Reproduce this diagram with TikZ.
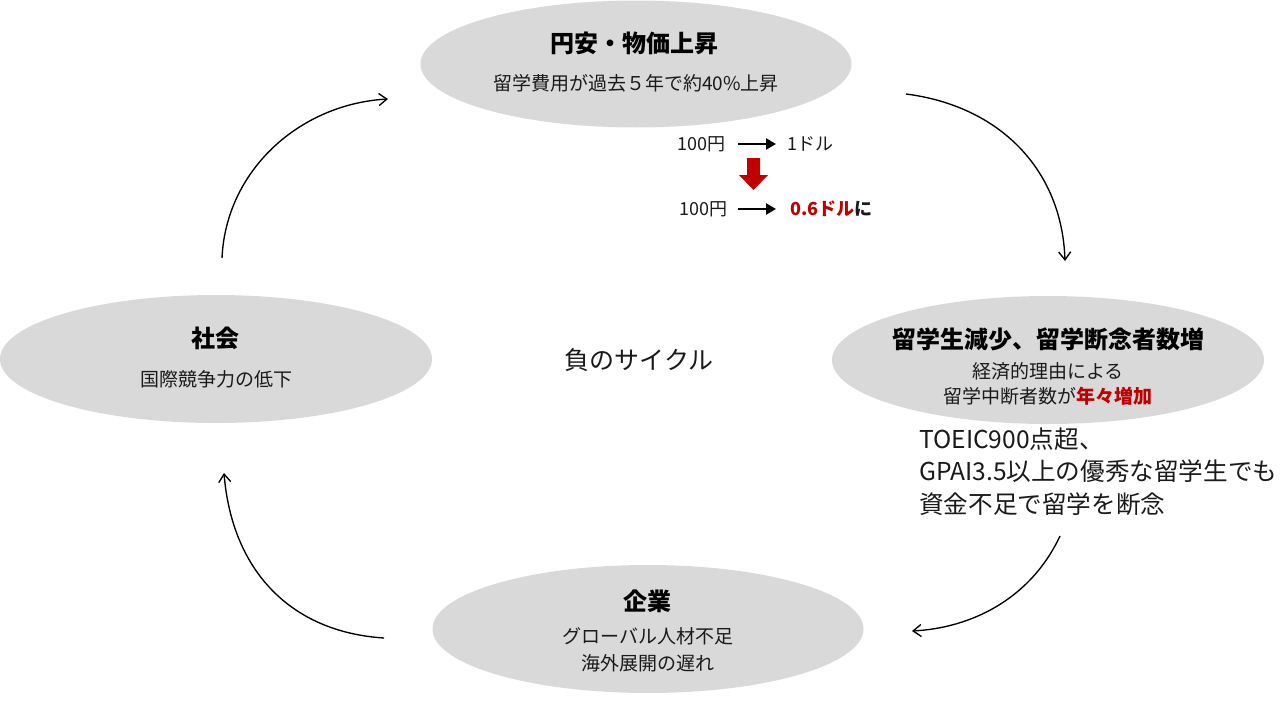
\documentclass[tikz,border=0pt]{standalone}
\usepackage{fontspec}
\setmainfont{Noto Sans CJK JP}
\usetikzlibrary{shapes.geometric,arrows.meta}
\definecolor{ell}{HTML}{D9D9D9}
\definecolor{dred}{HTML}{C00000}
\definecolor{txt}{HTML}{1A1A1A}
\begin{document}
\begin{tikzpicture}[x=1pt,y=-1pt,
  bubble/.style={ellipse, fill=ell, draw=none, inner sep=0, minimum width=431pt, minimum height=127pt},
  ttl/.style={font=\fontsize{24}{28}\selectfont\bfseries, text=black, inner sep=0},
  sub/.style={font=\fontsize{19}{24}\selectfont, text=txt, inner sep=0},
  big/.style={font=\fontsize{25}{30}\selectfont, text=txt, inner sep=0},
  blk/.style={font=\fontsize{24.6}{30}\selectfont, text=txt, inner sep=0, anchor=west},
  rate/.style={font=\fontsize{18}{22}\selectfont, text=txt, inner sep=0},
  cyc/.style={line width=1.35pt, -{Straight Barb[length=8pt,width=12pt,line width=1.35pt]}},
  fx/.style={line width=2.8pt, -{Triangle[length=10pt,width=11pt]}},
]
\useasboundingbox (0,0) rectangle (1280,720);

% ellipses
\node[bubble] (top) at (636,64) {};
\node[bubble, minimum width=432pt, minimum height=128pt] (right) at (1048,360) {};
\node[bubble, minimum width=432pt, minimum height=128pt] (left) at (216,359) {};
\node[bubble, minimum width=431pt, minimum height=128pt] (bottom) at (648,629) {};

% top texts
\node[ttl] (topT) at (634,43) {円安・物価上昇};
\node[sub] (topS) at (636,83) {留学費用が過去５年で約40\%上昇};

% right texts
\node[ttl] (rightT) at (1048,339) {留学生減少、留学断念者数増};
\node[sub] (rightS1) at (1048,371) {経済的理由による};
\node[sub] (rightS2) at (1048,396) {留学中断者数が\textcolor{dred}{\bfseries 年々増加}};

% left texts
\node[ttl] (leftT) at (215,338) {社会};
\node[sub] (leftS) at (216,379) {国際競争力の低下};

% bottom texts
\node[ttl] (botT) at (647,601) {企業};
\node[sub] (botS1) at (648,636) {グローバル人材不足};
\node[sub] (botS2) at (648,663) {海外展開の遅れ};

% center
\node[big] (center) at (639,360) {負のサイクル};

% text block
\node[blk] (b1) at (919,439) {TOEIC900点超、};
\node[blk] (b2) at (919,471) {GPAI3.5以上の優秀な留学生でも};
\node[blk] (b3) at (919,504) {資金不足で留学を断念};

% exchange rate
\node[rate, anchor=east] (r1a) at (726,144) {100円};
\node[rate, anchor=west] (r1b) at (787,144) {1ドル};
\node[rate, anchor=east] (r2a) at (728,209) {100円};
\node[rate, anchor=west] (r2b) at (790,209) {\bfseries\textcolor{dred}{0.6ドル}に};
\coordinate (f1s) at (738,144);
\coordinate (f1e) at (776,144);
\coordinate (f2s) at (738,209);
\coordinate (f2e) at (776,209);
\draw[fx] (f1s) -- (f1e);
\draw[fx] (f2s) -- (f2e);
\fill[dred] (747,158) -- (760,158) -- (760,175) -- (768,175) -- (753.5,190) -- (739,175) -- (747,175) -- cycle;

% cycle arrows
\coordinate (a1s) at (222,258);
\coordinate (a1e) at (388,99);
\coordinate (a2s) at (906,94);
\coordinate (a2e) at (1065,261);
\coordinate (a3s) at (1060,536);
\coordinate (a3e) at (912,631);
\coordinate (a4s) at (384,638);
\coordinate (a4e) at (224,473);
\draw[cyc] (a1s) .. controls (226,170) and (300,104) .. (a1e);
\draw[cyc] (a2s) .. controls (1000,106) and (1062,170) .. (a2e);
\draw[cyc] (a3s) .. controls (1030,600) and (970,628) .. (a3e);
\draw[cyc] (a4s) .. controls (290,632) and (232,570) .. (a4e);
\end{tikzpicture}
\end{document}
